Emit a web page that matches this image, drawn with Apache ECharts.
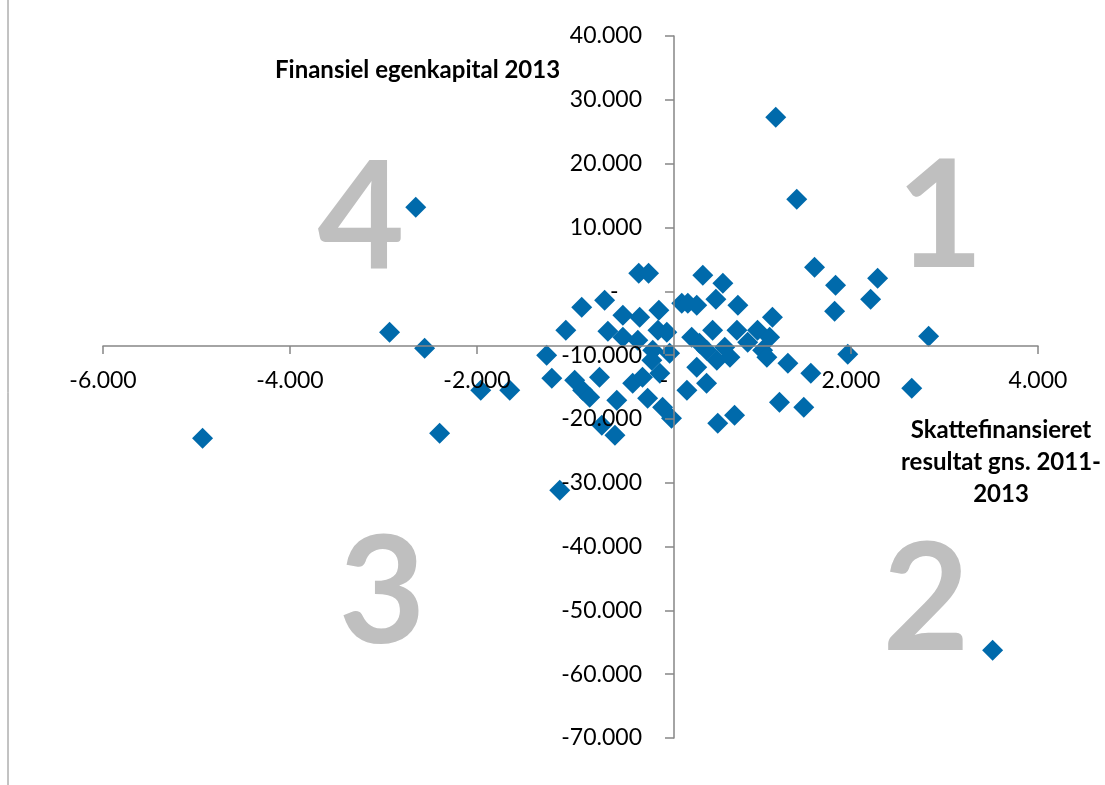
<!DOCTYPE html>
<html>
<head>
<meta charset="utf-8">
<script src="https://cdn.jsdelivr.net/npm/echarts@6/dist/echarts.min.js"></script>
<style>
  html, body { margin: 0; padding: 0; background: #fff; }
  #chart { width: 1105px; height: 785px; }
</style>
</head>
<body>
<div id="chart"></div>
<script>
// Skattefinansieret resultat gns. 2011-2013 (x) and Finansiel egenkapital 2013 (y)
const resultat = [
  1195, 1420, -2655, 1610, 1835, 2285, 2210, 1825, 2830, 1965, 2650,
  -2935, -2560, -4935, -2400, -1960, -1650, -1115, 3515, 1570, 1235, 1495, 1325,
  -270, -165, 415, 630, -880, -635, -440, -260, -55, 190, 255, 350, 555, 790, 1160,
  -1050, -600, -65, 30, -440, -280, -1255, -120, -130, 60, 380, 455, 520, 565,
  780, 705, 1000, 1055, 1130, 1100,
  -1200, -955, -870, -795, -690, -505, -335, -230, -45, -175, -15, 80, 245, 350,
  455, 575, 755, -525, -665, 895, 296, 650
]
const egenkapital = [
  27270, 14420, 13160, 3760, 940, 2040, -1250, -3130, -7050, -9870, -15200,
  -6430, -8930, -23040, -22250, -15510, -15510, -31180, -56250, -12850, -17390, -18180, -11280,
  2820, 2820, 2510, 1250, -2510, -1410, -3760, -4070, -2980, -1880, -1880, -2190, -1250, -2190, -4070,
  -6110, -6270, -6110, -6430, -7210, -7680, -10030, -9250, -10810, -9720, -8150, -9250, -6110, -10810,
  -6110, -10340, -6110, -9250, -7210, -10340,
  -13630, -13950, -15510, -16610, -13480, -17080, -14420, -13480, -12850, -16770, -18180, -19900, -15510, -11910,
  -14420, -20680, -19430, -22570, -21000, -7990, -7210, -8775
]
const quadrants = ['1', '2', '3', '4']
const xTitle = 'Skattefinansieret\nresultat gns. 2011-\n2013'
const yTitle = 'Finansiel egenkapital 2013'

const font = 'Lato, "Open Sans", sans-serif'

function fmt(v){
  if(v === 0) return '-'
  const s = Math.abs(v).toString().replace(/\B(?=(\d{3})+(?!\d))/g, '.')
  return (v < 0 ? '-' : '') + s
}

const points = resultat.map((x, i) => [x, egenkapital[i]])

const chart = echarts.init(document.getElementById('chart'))

const quadPos = [
  {x: 940, y: 219},
  {x: 926, y: 602},
  {x: 382, y: 595},
  {x: 361, y: 220}
]

chart.setOption({
  animation: false,
  grid: { left: 103, right: 67, top: 36, bottom: 47, containLabel: false },
  xAxis: {
    type: 'value',
    min: -6000, max: 4000, interval: 2000,
    position: 'bottom',
    offset: -392,
    z: 5,
    axisLine: { show: true, onZero: false, lineStyle: { color: '#868686', width: 1.5 } },
    axisTick: { show: true, length: 8, lineStyle: { color: '#868686', width: 1.5 } },
    axisLabel: { margin: 23, color: '#000', fontSize: 23, fontFamily: font, formatter: fmt },
    splitLine: { show: false }
  },
  yAxis: {
    type: 'value',
    min: -70000, max: 40000, interval: 10000,
    position: 'left',
    offset: -571,
    z: 5,
    axisLine: { show: true, onZero: false, lineStyle: { color: '#868686', width: 1.5 } },
    axisTick: { show: true, length: 9, lineStyle: { color: '#868686', width: 1.5 } },
    axisLabel: { margin: 32, color: '#000', fontSize: 23, fontFamily: font,
      formatter: v => v === 0 ? '-    ' : fmt(v) },
    splitLine: { show: false }
  },
  graphic: [
    { type: 'line', shape: { x1: 8, y1: 0, x2: 8, y2: 785 }, style: { stroke: '#868686', lineWidth: 1 } },
    { type: 'text', x: 275, y: 70,
      style: { text: yTitle, fontSize: 24, fontWeight: 'bold', fontFamily: font, fill: '#000',
        align: 'left', verticalAlign: 'middle' } },
    { type: 'text', x: 1001, y: 462,
      style: { text: xTitle, fontSize: 24, fontWeight: 'bold', fontFamily: font, fill: '#000',
        align: 'center', verticalAlign: 'middle', lineHeight: 32 } }
  ].concat(quadrants.map((q, i) => ({
    type: 'text', x: quadPos[i].x, y: quadPos[i].y, z: -1,
    style: { text: q, fontSize: 150, fontWeight: 'bold', fontFamily: font, fill: '#bfbfbf',
      align: 'center', verticalAlign: 'middle' }
  }))),
  series: [{
    type: 'scatter',
    symbol: 'diamond',
    symbolSize: 21,
    itemStyle: { color: '#006aab', opacity: 1 },
    data: points
  }]
})
</script>
</body>
</html>
